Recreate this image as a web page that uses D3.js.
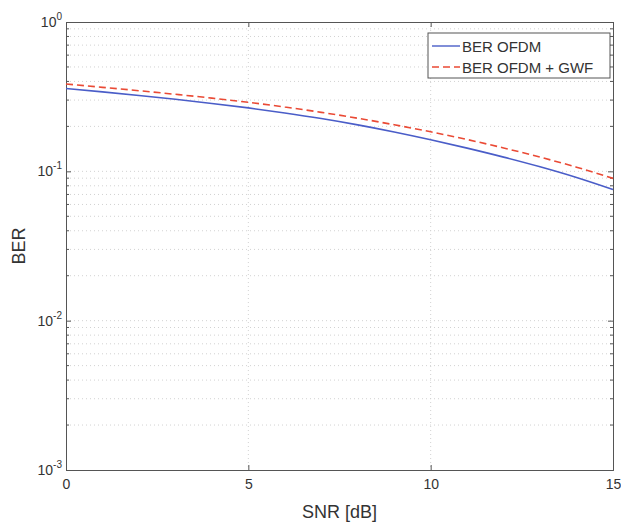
<!DOCTYPE html>
<html>
<head>
<meta charset="utf-8">
<script src="https://cdn.jsdelivr.net/npm/d3@7"></script>
<style>
body { margin: 0; background: #fff; }
text { font-family: "Liberation Sans", Arial, sans-serif; fill: #333; }
</style>
</head>
<body>
<div class="container"></div>
<script>
// values
var snr = [0, 1, 2, 3, 4, 5, 6, 7, 8, 9, 10, 11, 12, 13, 14, 15];
var berOfdm = [0.3586, 0.3403, 0.3219, 0.3036, 0.2849, 0.2659, 0.2461, 0.2258, 0.2048, 0.1836, 0.1628, 0.1430, 0.1245, 0.1072, 0.0909, 0.0755];
var berGwf = [0.3844, 0.3652, 0.3467, 0.3279, 0.3092, 0.2898, 0.2696, 0.2483, 0.2268, 0.2051, 0.1839, 0.1633, 0.1434, 0.1245, 0.1066, 0.0897];
var xTicks = [0, 5, 10, 15];
var yTicks = [1e-3, 1e-2, 1e-1, 1];
var seriesNames = ["BER OFDM", "BER OFDM + GWF"];

var W = 621, H = 523;
var m = {left: 66, right: 8, top: 22, bottom: 53};

var svg = d3.select('.container').append('svg')
	.attr('width', W)
	.attr('height', H);

var x = d3.scaleLinear().domain([0, 15]).range([m.left, W - m.right]);
var y = d3.scaleLog().domain([1e-3, 1]).range([H - m.bottom, m.top]);

// minor log ticks
var minor = [];
yTicks.slice(0, 3).forEach(function(d){
	for (var k = 2; k <= 9; k++) minor.push(d * k);
});

var grid = svg.append('g').attr('stroke', '#d2d2d2').attr('stroke-dasharray', '1,3');
grid.selectAll('.gy').data(minor.concat(yTicks.slice(1, 3))).enter().append('line')
	.attr('x1', x(0)).attr('x2', x(15))
	.attr('y1', function(d){ return y(d); }).attr('y2', function(d){ return y(d); });
grid.selectAll('.gx').data(xTicks.slice(1, 3)).enter().append('line')
	.attr('y1', y(1)).attr('y2', y(1e-3))
	.attr('x1', function(d){ return x(d); }).attr('x2', function(d){ return x(d); });

// axes
var axCol = '#555';
var axBottom = svg.append('g').attr('transform', 'translate(0,' + y(1e-3) + ')')
	.call(d3.axisBottom(x).tickValues(xTicks).tickSize(-5).tickPadding(9).tickFormat(d3.format('d')));
var axTop = svg.append('g').attr('transform', 'translate(0,' + y(1) + ')')
	.call(d3.axisTop(x).tickValues(xTicks).tickSize(-5).tickFormat(''));
var axLeft = svg.append('g').attr('transform', 'translate(' + x(0) + ',0)')
	.call(d3.axisLeft(y).tickValues(yTicks).tickSize(-5).tickFormat(''));
var axRight = svg.append('g').attr('transform', 'translate(' + x(15) + ',0)')
	.call(d3.axisRight(y).tickValues(yTicks).tickSize(-5).tickFormat(''));
[axLeft, axRight].forEach(function(g, i){
	g.selectAll('.mt').data(minor).enter().append('line')
		.attr('x1', 0).attr('x2', i == 0 ? 3 : -3)
		.attr('y1', function(d){ return y(d); }).attr('y2', function(d){ return y(d); })
		.attr('stroke', axCol);
});
[axBottom, axTop, axLeft, axRight].forEach(function(g){
	g.selectAll('.domain, .tick line').attr('stroke', axCol);
	g.selectAll('text').attr('font-size', 14).attr('fill', '#333')
		.style('font-family', '"Liberation Sans", Arial, sans-serif');
});

// y tick labels as 10^n
var ylab = svg.append('g');
yTicks.forEach(function(d){
	var t = ylab.append('text')
		.attr('x', x(0) - 4).attr('y', y(d) + 5)
		.attr('text-anchor', 'end').attr('font-size', 14);
	t.append('tspan').text('10');
	t.append('tspan').attr('dy', -7).attr('font-size', 10).text(Math.round(Math.log10(d)));
});

// lines
var line = d3.line()
	.curve(d3.curveMonotoneX)
	.x(function(d, i){ return x(snr[i]); })
	.y(function(d){ return y(d); });

svg.append('path').datum(berOfdm)
	.attr('d', line).attr('fill', 'none')
	.attr('stroke', '#4a5dc8').attr('stroke-width', 1.6);
svg.append('path').datum(berGwf)
	.attr('d', line).attr('fill', 'none')
	.attr('stroke', '#ea4a35').attr('stroke-width', 1.6)
	.attr('stroke-dasharray', '7,4');

// legend
var lg = svg.append('g').attr('transform', 'translate(428,33)');
lg.append('rect').attr('width', 182).attr('height', 45)
	.attr('fill', '#fff').attr('stroke', axCol);
var cols = ['#4a5dc8', '#ea4a35'];
var dash = [null, '7,4'];
seriesNames.forEach(function(n, i){
	var yy = 13 + i * 21;
	lg.append('line').attr('x1', 4).attr('x2', 32).attr('y1', yy).attr('y2', yy)
		.attr('stroke', cols[i]).attr('stroke-width', 1.4)
		.attr('stroke-dasharray', dash[i]);
	lg.append('text').attr('x', 34).attr('y', yy + 5.5)
		.attr('font-size', 15).text(n);
});

// axis titles
svg.append('text')
	.attr('x', x(7.5)).attr('y', 518)
	.attr('text-anchor', 'middle').attr('font-size', 18)
	.text('SNR [dB]');
svg.append('text')
	.attr('transform', 'translate(25,' + y(0.0316) + ') rotate(-90)')
	.attr('text-anchor', 'middle').attr('font-size', 18)
	.text('BER');
</script>
</body>
</html>
